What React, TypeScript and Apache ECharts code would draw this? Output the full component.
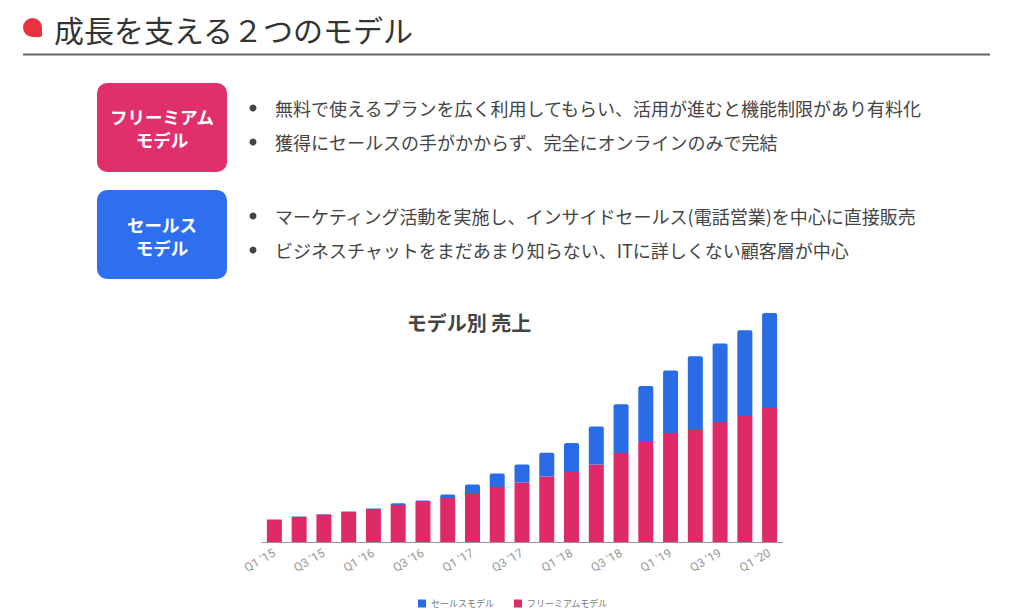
import React, { useEffect, useRef } from "react";
import * as echarts from "echarts";

const quarters = [
  "Q1 '15", "Q2 '15", "Q3 '15", "Q4 '15",
  "Q1 '16", "Q2 '16", "Q3 '16", "Q4 '16",
  "Q1 '17", "Q2 '17", "Q3 '17", "Q4 '17",
  "Q1 '18", "Q2 '18", "Q3 '18", "Q4 '18",
  "Q1 '19", "Q2 '19", "Q3 '19", "Q4 '19",
  "Q1 '20",
];
const freemiumSales = [
  22.5, 25, 27.5, 30, 33, 37, 40, 44, 49, 55, 59.5, 65.5, 70, 77.5, 89, 100, 109, 113, 120, 126, 134,
];
const salesModelSales = [
  0, 0.6, 0.6, 0.6, 0.6, 1.8, 1.5, 3.4, 8.6, 13.4, 18, 23.7, 29, 38, 48.7, 56, 62.4, 72.7, 78.4, 85.7, 95,
];
const seriesNames = ["セールスモデル", "フリーミアムモデル"];
const pageTitle = "成長を支える２つのモデル";
const chartTitle = "モデル別 売上";
const boxLabels = [["フリーミアム", "モデル"], ["セールス", "モデル"]];
const bullets = [
  "無料で使えるプランを広く利用してもらい、活用が進むと機能制限があり有料化",
  "獲得にセールスの手がかからず、完全にオンラインのみで完結",
  "マーケティング活動を実施し、インサイドセールス(電話営業)を中心に直接販売",
  "ビジネスチャットをまだあまり知らない、ITに詳しくない顧客層が中心",
];

const PINK = "#DF2A6A";
const BLUE = "#2A6BE6";
const FONT = "'Noto Sans CJK JP', 'Noto Sans', sans-serif";

export default function App() {
  const ref = useRef<HTMLDivElement>(null);
  useEffect(() => {
    if (!ref.current) return;
    const chart = echarts.init(ref.current, null, { renderer: "svg" });
    const bulletY = [108, 142, 216, 250];
    const graphics: any[] = [
      {
        type: "rect",
        shape: { x: 23, y: 18, width: 19, height: 19, r: [9.5, 9.5, 2, 9.5] },
        style: { fill: "#E8323F" },
      },
      {
        type: "text",
        x: 54,
        y: 29,
        style: {
          text: pageTitle,
          fontSize: 30,
          fontFamily: FONT,
          fill: "#333",
          textVerticalAlign: "middle",
        },
      },
      {
        type: "line",
        shape: { x1: 23, y1: 54.5, x2: 990, y2: 54.5 },
        style: { stroke: "#666", lineWidth: 2 },
      },
      {
        type: "rect",
        shape: { x: 97, y: 83, width: 130, height: 89, r: 10 },
        style: { fill: "#E0306B" },
      },
      {
        type: "rect",
        shape: { x: 97, y: 190, width: 130, height: 89, r: 10 },
        style: { fill: "#2E6FF0" },
      },
      {
        type: "text",
        x: 469,
        y: 322,
        style: {
          text: chartTitle,
          fontSize: 20,
          fontWeight: "bold",
          fontFamily: FONT,
          fill: "#444",
          textAlign: "center",
          textVerticalAlign: "middle",
        },
      },
    ];
    const boxLineY = [[116, 139], [224, 247]];
    boxLabels.forEach((lines, bi) => {
      lines.forEach((t, li) => {
        graphics.push({
          type: "text",
          x: 162,
          y: boxLineY[bi][li],
          style: {
            text: t,
            fontSize: 17.5,
            fontWeight: "bold",
            fontFamily: FONT,
            fill: "#fff",
            textAlign: "center",
            textVerticalAlign: "middle",
          },
        });
      });
    });
    bullets.forEach((t, i) => {
      graphics.push({
        type: "circle",
        shape: { cx: 253, cy: bulletY[i], r: 3.5 },
        style: { fill: "#444" },
      });
      graphics.push({
        type: "text",
        x: 275,
        y: bulletY[i],
        style: {
          text: t,
          fontSize: 18,
          fontFamily: FONT,
          fill: "#444",
          textVerticalAlign: "middle",
        },
      });
    });

    chart.setOption({
      animation: false,
      backgroundColor: "#fff",
      graphic: graphics,
      legend: {
        data: seriesNames,
        left: 413,
        top: 594,
        itemWidth: 8,
        itemHeight: 8,
        itemGap: 20,
        icon: "rect",
        textStyle: { fontSize: 9, color: "#777", fontFamily: FONT },
      },
      grid: { left: 262, width: 520, top: 302, bottom: 71, containLabel: false },
      xAxis: {
        type: "category",
        data: quarters,
        axisLine: { lineStyle: { color: "#999", width: 1 } },
        axisTick: { show: false },
        axisLabel: {
          rotate: 30,
          interval: 1,
          fontSize: 12,
          color: "#999",
          margin: 10,
          fontFamily: "Roboto, sans-serif",
        },
      },
      yAxis: {
        type: "value",
        min: 0,
        max: 240,
        show: false,
        splitLine: { show: false },
      },
      series: [
        {
          name: seriesNames[1],
          type: "bar",
          stack: "total",
          data: freemiumSales,
          barWidth: 15,
          itemStyle: { color: PINK },
        },
        {
          name: seriesNames[0],
          type: "bar",
          stack: "total",
          data: salesModelSales,
          barWidth: 15,
          itemStyle: { color: BLUE, borderRadius: [2, 2, 0, 0] },
        },
      ],
    });
    return () => chart.dispose();
  }, []);
  return (
    <div
      ref={ref}
      style={{ position: "absolute", left: 0, top: 0, width: 1024, height: 613 }}
    />
  );
}
